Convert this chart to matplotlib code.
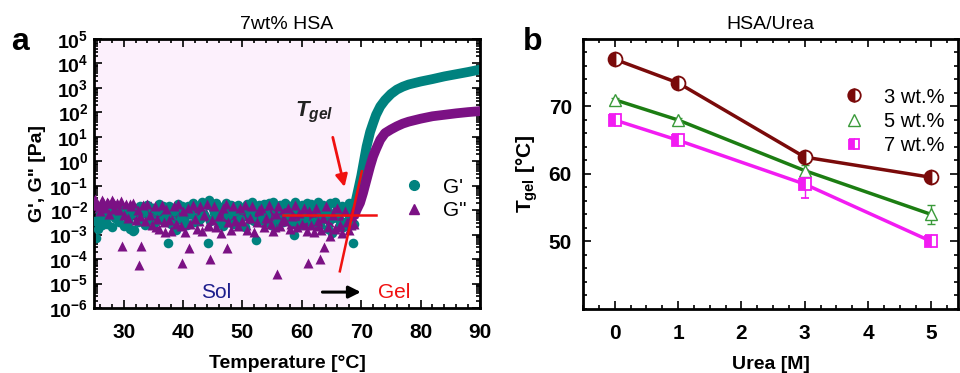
import matplotlib
matplotlib.use("Agg")
import matplotlib.pyplot as plt
import numpy as np
from matplotlib.ticker import MultipleLocator, FixedLocator, FuncFormatter, LogLocator, NullFormatter
from matplotlib.lines import Line2D

plt.rcParams['font.family'] = ['Liberation Sans', 'DejaVu Sans']
plt.rcParams['mathtext.fontset'] = 'custom'
plt.rcParams['mathtext.rm'] = 'Liberation Sans:bold'
plt.rcParams['mathtext.bf'] = 'Liberation Sans:bold'
plt.rcParams['mathtext.it'] = 'Liberation Sans:italic:bold'

# ---------------- Panel a data ----------------
noise_T = [25.0, 25.4, 25.8, 26.2, 26.6, 27.0, 27.4, 27.8, 28.2, 28.6,
           29.0, 29.4, 29.8, 30.2, 30.6, 31.0, 31.4, 31.8, 32.2, 32.6,
           33.0, 33.4, 33.8, 34.2, 34.6, 35.0, 35.4, 35.8, 36.2, 36.6,
           37.0, 37.4, 37.8, 38.2, 38.6, 39.0, 39.4, 39.8, 40.2, 40.6,
           41.0, 41.4, 41.8, 42.2, 42.6, 43.0, 43.4, 43.8, 44.2, 44.6,
           45.0, 45.4, 45.8, 46.2, 46.6, 47.0, 47.4, 47.8, 48.2, 48.6,
           49.0, 49.4, 49.8, 50.2, 50.6, 51.0, 51.4, 51.8, 52.2, 52.6,
           53.0, 53.4, 53.8, 54.2, 54.6, 55.0, 55.4, 55.8, 56.2, 56.6,
           57.0, 57.4, 57.8, 58.2, 58.6, 59.0, 59.4, 59.8, 60.2, 60.6,
           61.0, 61.4, 61.8, 62.2, 62.6, 63.0, 63.4, 63.8, 64.2, 64.6,
           65.0, 65.4, 65.8, 66.2, 66.6, 67.0, 67.4, 67.8, 68.2, 68.6]

noise_logG2 = [-1.80, -1.70, -1.90, -1.75, -1.65, -1.85, -1.72, -1.95, -1.68, -1.80,
               -1.78, -1.90, -3.45, -1.85, -2.05, -1.75, -2.20, -1.95, -1.88, -4.25,
               -3.47, -1.90, -2.10, -2.30, -1.85, -2.05, -2.70, -1.95, -2.15, -2.00,
               -2.90, -2.25, -1.90, -2.40, -2.05, -2.60, -2.10, -4.15, -2.30, -1.95,
               -3.55, -2.15, -2.35, -1.90, -2.45, -2.05, -2.25, -2.10, -2.60, -4.00,
               -2.30, -2.05, -2.50, -1.95, -2.20, -2.40, -3.55, -2.10, -2.30, -1.95,
               -2.15, -2.45, -2.00, -2.25, -2.60, -1.95, -2.35, -2.10, -2.05, -2.40,
               -2.20, -1.95, -2.50, -2.15, -2.30, -2.05, -2.70, -4.60, -2.20, -2.40,
               -1.95, -2.30, -2.10, -2.55, -2.00, -2.25, -2.45, -2.05, -2.35, -2.60,
               -4.15, -2.20, -2.05, -2.40, -2.65, -4.00, -2.30, -3.50, -2.10, -2.50,
               -2.25, -2.05, -2.70, -2.15, -2.35, -2.00, -2.45, -2.20, -2.60, -2.10]

noise_logG1 = [-2.05, -3.15, -2.50, -2.20, -2.35, -2.15, -2.25, -2.00, -2.10, -2.30,
               -2.05, -2.20, -1.95, -2.15, -2.10, -2.75, -2.00, -2.80, -1.90, -2.10,
               -2.15, -1.95, -2.05, -2.20, -2.40, -1.90, -2.10, -2.00, -2.30, -1.85,
               -2.00, -3.35, -1.90, -2.20, -1.95, -2.40, -2.05, -1.85, -2.15, -2.60,
               -1.90, -2.05, -1.85, -2.30, -2.00, -1.80, -2.15, -1.75, -3.35, -2.45,
               -1.95, -2.10, -1.85, -2.25, -2.00, -2.50, -1.90, -2.10, -2.35, -1.95,
               -2.05, -2.60, -1.90, -2.15, -1.85, -2.00, -2.30, -1.95, -3.20, -2.10,
               -1.90, -2.05, -1.85, -2.40, -2.00, -2.20, -1.90, -2.55, -1.85, -2.10,
               -2.00, -2.30, -1.85, -2.05, -3.00, -2.15, -1.90, -2.40, -2.05, -1.85,
               -2.10, -2.50, -1.95, -2.20, -1.90, -2.60, -2.05, -2.30, -1.95, -2.45,
               -2.95, -2.10, -1.80, -2.35, -2.00, -2.70, -1.95, -2.10, -1.90, -3.35]

noise_T_b = [25.2, 25.6, 26.0, 26.4, 26.8, 27.2, 27.6, 28.0, 28.4, 28.8,
             29.2, 29.6, 30.0, 30.4, 30.8, 31.2, 31.6, 32.0, 32.4, 32.8,
             33.2, 33.6, 34.0, 34.4, 34.8, 35.2, 35.6, 36.0, 36.4, 36.8,
             37.2, 37.6, 38.0, 38.4, 38.8, 39.2, 39.6, 40.0, 40.4, 40.8,
             41.2, 41.6, 42.0, 42.4, 42.8, 43.2, 43.6, 44.0, 44.4, 44.8,
             45.2, 45.6, 46.0, 46.4, 46.8, 47.2, 47.6, 48.0, 48.4, 48.8,
             49.2, 49.6, 50.0, 50.4, 50.8, 51.2, 51.6, 52.0, 52.4, 52.8,
             53.2, 53.6, 54.0, 54.4, 54.8, 55.2, 55.6, 56.0, 56.4, 56.8,
             57.2, 57.6, 58.0, 58.4, 58.8, 59.2, 59.6, 60.0, 60.4, 60.8,
             61.2, 61.6, 62.0, 62.4, 62.8, 63.2, 63.6, 64.0, 64.4, 64.8,
             65.2, 65.6, 66.0, 66.4, 66.8, 67.2, 67.6, 68.0, 68.4, 68.8]

noise_logG2_b = [-1.55, -1.80, -2.05, -1.60, -1.90, -1.65, -2.15, -1.58, -1.95, -1.70,
                 -2.00, -1.62, -2.20, -1.75, -2.30, -1.85, -1.70, -2.40, -2.00, -2.25,
                 -1.80, -2.45, -1.75, -2.20, -2.60, -1.85, -2.35, -2.75, -1.80, -2.50,
                 -1.95, -2.40, -2.85, -1.85, -2.55, -1.75, -2.65, -2.05, -2.90, -1.90,
                 -2.55, -1.80, -2.35, -2.75, -1.85, -2.85, -2.20, -1.75, -2.65, -2.40,
                 -1.85, -2.70, -2.25, -2.95, -1.90, -1.75, -2.50, -2.80, -1.85, -2.45,
                 -2.65, -1.90, -2.45, -1.80, -2.80, -2.30, -1.85, -2.90, -2.50, -2.00,
                 -1.90, -2.70, -2.30, -1.80, -2.55, -2.85, -2.15, -1.85, -2.65, -2.35,
                 -2.45, -1.90, -2.75, -2.25, -1.80, -2.70, -2.10, -2.55, -1.90, -2.85,
                 -2.05, -2.60, -2.90, -1.90, -2.45, -2.80, -2.30, -1.85, -2.70, -3.05,
                 -2.20, -2.75, -1.90, -2.60, -2.95, -2.05, -2.50, -2.80, -2.25, -2.55]

noise_logG1_b = [-2.45, -2.75, -2.20, -2.60, -2.30, -2.55, -2.10, -2.70, -2.25, -2.15,
                 -2.50, -2.05, -2.65, -1.95, -2.45, -2.15, -2.85, -2.05, -2.50, -1.85,
                 -2.10, -2.60, -1.80, -2.30, -1.90, -2.50, -2.05, -1.75, -2.40, -1.95,
                 -2.25, -1.85, -2.55, -2.05, -2.80, -1.75, -2.30, -1.95, -2.50, -1.85,
                 -2.15, -1.70, -2.50, -1.85, -2.35, -1.65, -2.20, -1.80, -1.60, -2.40,
                 -2.10, -1.70, -2.45, -1.90, -2.65, -1.70, -2.20, -1.80, -2.55, -2.05,
                 -1.80, -2.35, -1.95, -2.70, -1.75, -2.15, -1.65, -2.45, -1.90, -1.80,
                 -2.40, -1.75, -2.20, -1.70, -2.60, -1.65, -1.95, -2.35, -1.80, -2.50,
                 -1.70, -2.20, -1.85, -2.45, -1.65, -1.95, -2.60, -1.80, -2.30, -1.70,
                 -2.05, -1.75, -2.50, -1.90, -1.65, -2.40, -1.80, -2.10, -2.75, -1.70,
                 -2.30, -1.65, -2.10, -2.60, -1.85, -1.95, -2.45, -1.70, -2.10, -2.55]

rise_T1 = [68.8, 69.0, 69.5, 70.0, 70.3, 70.9, 71.5, 72.0, 72.5, 73.2, 74.0, 75.0,
           76.0, 77.0, 78.0, 80.0, 82.0, 84.0, 86.0, 88.0, 90.0]
rise_logG1 = [-2.0, -1.7, -1.16, -0.6, -0.2, 0.6, 1.2, 1.56, 1.9, 2.24, 2.5, 2.75,
              2.93, 3.05, 3.14, 3.26, 3.36, 3.47, 3.56, 3.65, 3.75]
rise_T2 = [68.9, 69.2, 69.8, 70.3, 70.9, 71.5, 72.0, 72.5, 73.2, 74.0, 75.0, 76.0,
           77.0, 78.0, 80.0, 82.0, 84.0, 86.0, 88.0, 90.0]
rise_logG2 = [-2.2, -2.0, -1.7, -1.3, -0.75, -0.2, 0.2, 0.5, 0.88, 1.15, 1.3, 1.43,
              1.54, 1.62, 1.74, 1.84, 1.90, 1.96, 2.01, 2.05]

# ---------------- Panel b data ----------------
urea = [0, 1, 3, 5]
tgel_3 = [77.0, 73.5, 62.5, 59.5]
tgel_5 = [71.0, 68.0, 60.5, 54.0]
tgel_7 = [68.0, 65.0, 58.5, 50.0]
err_3 = [0.3, 0.3, 0.3, 0.3]
err_5 = [0.3, 0.3, 0.9, 1.35]
err_7 = [0.3, 0.3, 2.1, 0.3]

c_G1 = '#00827f'
c_G2 = '#7b1184'
c3 = '#7a0a0a'
c5 = '#1c7d12'
c7 = '#f21cf2'

fig = plt.figure(figsize=(9.6, 3.73), dpi=100)
axA = fig.add_axes([0.0979, 0.1743, 0.4021, 0.7212])
axB = fig.add_axes([0.6073, 0.1716, 0.3906, 0.7239])

# ---- Panel a ----
axA.axvspan(25, 68.1, color='#fcf0fc', zorder=0, lw=0)
axA.scatter(noise_T, 10 ** np.array(noise_logG1), s=48, marker='o', color=c_G1, lw=0, zorder=2)
axA.scatter(noise_T, 10 ** np.array(noise_logG2), s=52, marker='^', color=c_G2, lw=0, zorder=3)
axA.scatter(noise_T_b, 10 ** np.array(noise_logG1_b), s=48, marker='o', color=c_G1, lw=0, zorder=3)
axA.scatter(noise_T_b, 10 ** np.array(noise_logG2_b), s=52, marker='^', color=c_G2, lw=0, zorder=3)
axA.plot(rise_T1, 10 ** np.array(rise_logG1), color=c_G1, lw=7, solid_capstyle='round', zorder=2)
axA.plot(rise_T2, 10 ** np.array(rise_logG2), color=c_G2, lw=7, solid_capstyle='round', zorder=3)

axA.set_yscale('log')
axA.set_xlim(25, 90)
axA.set_ylim(1e-6, 1e5)
axA.yaxis.set_major_locator(LogLocator(base=10, numticks=20))
axA.yaxis.set_minor_locator(LogLocator(base=10, subs=np.arange(2, 10), numticks=200))
axA.yaxis.set_minor_formatter(NullFormatter())
axA.yaxis.set_major_formatter(FuncFormatter(lambda v, p: r'$\mathregular{10^{%d}}$' % round(np.log10(v))))
axA.xaxis.set_major_locator(MultipleLocator(10))
axA.xaxis.set_minor_locator(MultipleLocator(2))

# red construction lines and arrow
axA.plot([56.8, 72.5], [10 ** -2.18, 10 ** -2.18], color='#f01010', lw=1.8, zorder=5)
axA.plot([66.4, 70.1], [10 ** -4.5, 10 ** -0.41], color='#f01010', lw=1.8, zorder=5)
axA.annotate('', xy=(67.3, 10 ** -1.16), xytext=(65.1, 10 ** 1.09),
             arrowprops=dict(arrowstyle='-|>', color='#f01010', lw=2, mutation_scale=18), zorder=6)
axA.text(62.0, 10 ** 2.0, r'$\mathit{T_{gel}}$', fontsize=16, ha='center', va='center', color='#222222')
axA.annotate('', xy=(70.4, 10 ** -5.35), xytext=(63.0, 10 ** -5.35),
             arrowprops=dict(arrowstyle='-|>', color='black', lw=2.2, mutation_scale=18))
axA.text(45.5, 10 ** -5.35, 'Sol', fontsize=15, color='#1d1d8c', ha='center', va='center')
axA.text(75.5, 10 ** -5.35, 'Gel', fontsize=15, color='#f01010', ha='center', va='center')

hG1 = Line2D([], [], marker='o', color=c_G1, ls='none', markersize=7)
hG2 = Line2D([], [], marker='^', color=c_G2, ls='none', markersize=7)
axA.legend([hG1, hG2], ["G'", 'G"'], loc='upper left', bbox_to_anchor=(0.78, 0.515),
           frameon=False, fontsize=15, handlelength=1.0, handletextpad=0.9, labelspacing=0.2,
           borderaxespad=0)

axA.set_xlabel('Temperature [°C]', fontsize=14, fontweight='bold', labelpad=9)
axA.set_ylabel("G', G\" [Pa]", fontsize=14, fontweight='bold', labelpad=2)
axA.set_title('7wt% HSA', fontsize=14, pad=7)
fig.text(0.012, 0.865, 'a', fontsize=23, fontweight='bold')

# ---- Panel b ----
axB.errorbar(urea, tgel_3, yerr=err_3, color=c3, lw=2.5, marker='o', markersize=10,
             fillstyle='left', markerfacecoloralt='white', markeredgecolor=c3, markeredgewidth=1.3,
             capsize=3, elinewidth=1, zorder=3)
axB.errorbar(urea, tgel_5, yerr=err_5, color=c5, lw=2.5, marker='^', markersize=9,
             markerfacecolor='white', markeredgecolor='#3a9a3a', markeredgewidth=1.0,
             capsize=3, elinewidth=1, ecolor='#3a9a3a', zorder=3)
axB.errorbar(urea, tgel_7, yerr=err_7, color=c7, lw=2.5, marker='s', markersize=8.5,
             fillstyle='left', markerfacecoloralt='white', markeredgecolor=c7, markeredgewidth=1.3,
             capsize=3, elinewidth=1, zorder=3)

axB.set_xlim(-0.5, 5.42)
axB.set_ylim(40, 80)
axB.xaxis.set_major_locator(MultipleLocator(1))
axB.xaxis.set_minor_locator(MultipleLocator(0.25))
axB.yaxis.set_major_locator(FixedLocator([50, 60, 70]))
axB.yaxis.set_minor_locator(MultipleLocator(2))

h3 = Line2D([], [], marker='o', color=c3, ls='none', markersize=9, fillstyle='left',
            markerfacecoloralt='white', markeredgewidth=1.3)
h5 = Line2D([], [], marker='^', color='#3a9a3a', ls='none', markersize=8, markerfacecolor='white',
            markeredgewidth=1.0)
h7 = Line2D([], [], marker='s', color=c7, ls='none', markersize=7, fillstyle='left',
            markerfacecoloralt='white', markeredgewidth=1.3)
axB.legend([h3, h5, h7], ['3 wt.%', '5 wt.%', '7 wt.%'], loc='upper left',
           bbox_to_anchor=(0.675, 0.85), frameon=False, fontsize=14.5, handlelength=1.0,
           handletextpad=1.0, labelspacing=0.25, borderaxespad=0)

axB.set_xlabel('Urea [M]', fontsize=14, fontweight='bold', labelpad=9)
axB.set_ylabel(r'$\mathregular{T_{gel}}$ [°C]', fontsize=15, fontweight='bold', labelpad=6)
axB.set_title('HSA/Urea', fontsize=14, pad=7)
fig.text(0.545, 0.865, 'b', fontsize=23, fontweight='bold')

for ax in (axA, axB):
    for s in ax.spines.values():
        s.set_linewidth(2)
    ax.tick_params(which='both', direction='in', top=True, right=True, width=1.2)
    ax.tick_params(which='major', length=6)
    ax.tick_params(which='minor', length=3)
    ax.tick_params(axis='x', which='major', labelsize=15, pad=11)
    for lab in ax.get_xticklabels() + ax.get_yticklabels():
        lab.set_fontweight('bold')
axA.tick_params(axis='y', which='major', labelsize=14, pad=4)
axB.tick_params(axis='y', which='major', labelsize=15, pad=8)

fig.savefig('out.png', dpi=100)
